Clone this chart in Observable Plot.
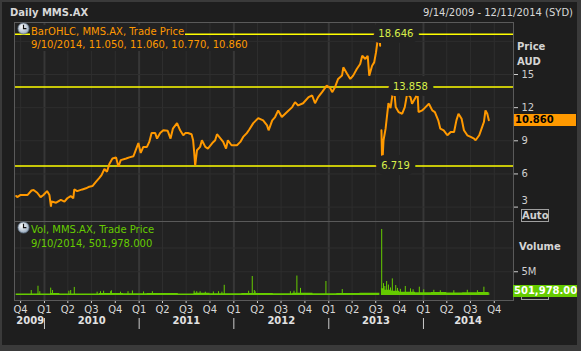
<!DOCTYPE html>
<html><head><meta charset="utf-8">
<script src="https://cdn.jsdelivr.net/npm/d3@7"></script>
<script src="https://cdn.jsdelivr.net/npm/@observablehq/plot@0.6"></script>
<style>
html,body{margin:0;padding:0;background:#3a3a3a;}
#root{position:relative;width:581px;height:351px;overflow:hidden;font-family:"DejaVu Sans",sans-serif;font-size:10px;}
#bg{position:absolute;left:2px;top:2px;width:575px;height:343px;background:#1e1e1e;}
.abs{position:absolute;white-space:nowrap;line-height:13px;}
#root svg{position:absolute;left:0;}
</style></head><body>
<div id="root"><div id="bg"></div></div>
<script>
// ---------- data ----------
const priceDates = ["2009-09-14","2009-09-18","2009-10-01","2009-10-28","2009-11-12","2009-11-20","2009-12-04","2009-12-17","2009-12-28","2010-01-11","2010-01-20","2010-01-26","2010-01-28","2010-02-15","2010-03-05","2010-03-19","2010-03-30","2010-04-12","2010-04-22","2010-04-26","2010-05-07","2010-05-27","2010-06-10","2010-06-23","2010-07-05","2010-07-19","2010-07-30","2010-08-09","2010-08-20","2010-08-30","2010-09-08","2010-09-20","2010-10-04","2010-10-13","2010-10-22","2010-11-12","2010-11-24","2010-12-10","2010-12-21","2010-12-29","2011-01-07","2011-01-17","2011-01-31","2011-02-09","2011-02-18","2011-03-04","2011-03-11","2011-03-23","2011-04-04","2011-04-21","2011-05-02","2011-05-11","2011-05-27","2011-06-08","2011-06-20","2011-06-28","2011-07-08","2011-07-22","2011-07-28","2011-08-01","2011-08-05","2011-08-12","2011-08-24","2011-08-31","2011-09-13","2011-09-23","2011-10-10","2011-10-21","2011-10-28","2011-11-11","2011-11-21","2011-12-02","2011-12-09","2011-12-23","2012-01-13","2012-01-26","2012-02-06","2012-02-20","2012-02-29","2012-03-16","2012-04-04","2012-04-23","2012-05-08","2012-05-14","2012-05-28","2012-06-08","2012-06-20","2012-07-04","2012-07-24","2012-08-13","2012-08-24","2012-09-05","2012-09-24","2012-10-15","2012-10-29","2012-11-09","2012-11-21","2012-12-06","2012-12-24","2013-01-07","2013-01-14","2013-01-25","2013-02-06","2013-02-21","2013-02-26","2013-03-12","2013-03-25","2013-04-05","2013-04-19","2013-05-02","2013-05-10","2013-05-22","2013-05-31","2013-06-06","2013-06-17","2013-06-25","2013-07-02","2013-07-09","2013-07-15","2013-07-18","2013-07-19","2013-07-23","2013-07-26","2013-07-31","2013-08-08","2013-08-19","2013-08-27","2013-09-05","2013-09-09","2013-09-16","2013-09-27","2013-10-11","2013-10-21","2013-10-30","2013-11-12","2013-11-18","2013-12-02","2013-12-09","2013-12-13","2013-12-27","2014-01-09","2014-01-22","2014-02-04","2014-02-14","2014-02-27","2014-03-07","2014-03-20","2014-04-03","2014-04-16","2014-04-29","2014-05-08","2014-05-16","2014-05-28","2014-06-06","2014-06-19","2014-07-02","2014-07-15","2014-07-21","2014-08-04","2014-08-13","2014-08-22","2014-08-28","2014-09-04","2014-09-10"];
const priceClose = [4.0,3.9,4.1,4.1,4.5,4.55,4.3,3.9,4.1,4.45,4.1,3.05,3.5,3.4,3.65,3.5,3.8,4.0,3.8,4.6,4.45,4.6,4.7,4.85,4.9,5.3,5.6,5.9,6.45,6.2,6.9,7.4,7.5,6.65,7.25,7.4,7.5,7.6,8.3,8.8,7.9,8.45,8.45,8.9,9.7,9.7,9.2,9.7,9.95,9.9,9.2,10.1,10.6,9.95,9.5,9.7,9.7,9.6,9.05,8.0,6.76,8.15,8.45,9.05,8.45,8.3,8.8,9.05,9.6,9.2,8.9,8.3,9.05,8.6,8.6,8.9,9.35,9.7,10.0,10.6,11.05,10.85,10.4,9.95,10.85,11.15,11.75,11.15,11.6,12.05,12.5,12.2,12.4,12.95,13.1,12.4,12.95,13.4,14.0,13.75,13.4,13.85,14.6,14.9,15.65,15.1,14.6,14.9,15.5,15.95,16.7,16.4,16.7,14.9,15.8,16.1,17.0,18.2,18.646,17.6,null,9.95,6.719,9.05,10.1,12.4,11.95,13.4,13.858,12.05,11.6,11.45,12.05,13.25,12.95,12.35,12.95,13.4,11.6,11.75,12.05,12.35,11.75,11.6,10.85,10.1,9.95,9.5,9.8,9.8,10.85,11.45,11.0,9.95,9.5,9.35,9.2,9.05,9.5,10.1,10.7,11.75,11.45,10.86];

const markerDates = ["2013-07-15","2013-09-09","2013-07-26"];
const markerValues = [18.646, 13.858, 6.719];

const volBaseDates = ["2009-09-14","2010-01-25","2010-03-01","2010-08-01","2010-11-01","2011-02-01","2011-06-01","2011-08-01","2011-10-01","2012-02-01","2012-06-01","2012-08-15","2012-11-01","2013-02-01","2013-05-01","2013-07-17","2013-07-23","2013-08-01","2013-09-01","2013-10-01","2013-12-01","2014-02-01","2014-04-01","2014-06-01","2014-08-01","2014-09-11"];
const volBaseValues = [0.3,0.4,0.3,0.4,0.35,0.4,0.3,0.45,0.35,0.4,0.35,0.45,0.35,0.4,0.45,0,1.4,1.1,0.9,0.7,0.6,0.65,0.55,0.6,0.65,0.5];

const volDates = ["2009-11-11","2009-12-07","2009-12-14","2010-01-25","2010-02-01","2010-04-05","2010-04-12","2010-04-26","2010-07-23","2010-08-05","2010-08-17","2010-09-13","2010-09-16","2010-10-21","2010-11-19","2010-12-06","2011-01-18","2011-02-21","2011-08-01","2011-08-11","2011-08-24","2011-09-13","2011-10-14","2011-11-03","2011-11-16","2011-11-25","2012-02-27","2012-03-12","2012-03-20","2012-03-23","2012-08-06","2012-08-20","2012-08-31","2012-09-14","2012-12-21","2013-02-22","2013-07-24","2013-07-31","2013-08-05","2013-08-12","2013-08-19","2013-08-27","2013-09-03","2013-09-16","2013-09-23","2013-10-04","2013-10-23","2013-11-12","2013-11-22","2013-12-16","2014-01-02","2014-02-10","2014-03-07","2014-04-28","2014-06-19","2014-07-28","2014-08-22","2014-09-10"];
const volValues = [1.05,1.95,0.8,1.55,1.05,0.9,1.05,1.7,0.7,0.8,0.9,0.8,1.0,0.7,0.8,0.95,0.75,0.8,0.9,0.8,0.8,0.7,0.75,0.8,0.7,2.15,0.9,4.0,1.05,0.8,0.8,0.9,4.1,1.5,2.95,1.25,13.9,2.5,1.9,2.95,2.2,1.6,3.5,2.1,1.5,1.3,1.9,1.4,1.2,1.75,1.2,1.1,1.0,1.0,1.1,1.0,1.75,0.501978];

const quarterTicks = ["2009-10-01","2010-01-01","2010-04-01","2010-07-01","2010-10-01","2011-01-01","2011-04-01","2011-07-01","2011-10-01","2012-01-01","2012-04-01","2012-07-01","2012-10-01","2013-01-01","2013-04-01","2013-07-01","2013-10-01","2014-01-01","2014-04-01","2014-07-01","2014-10-01"];
const quarterLabels = ["Q4","Q1","Q2","Q3","Q4","Q1","Q2","Q3","Q4","Q1","Q2","Q3","Q4","Q1","Q2","Q3","Q4","Q1","Q2","Q3","Q4"];
const yearStarts = ["2010-01-01","2011-01-01","2012-01-01","2013-01-01","2014-01-01"];
const yearLabels = ["2009","2010","2011","2012","2013","2014"];
const yearMids = ["2009-11-07","2010-07-02","2011-07-02","2012-07-02","2013-07-02","2014-06-22"];
const priceTicks = [6,9,12,15];
const priceTickLow = [3];
const priceGrid = [3,6,9,12,15,18];
const volTicks = [5];
const volGrid = [5,10];
const lastClose = 10.86;
const lastVolume = 0.501978;

// ---------- build ----------
const D = s => new Date(s);
const priceData = priceDates.map((d,i)=>({date:D(d), close:priceClose[i]==null?NaN:priceClose[i]}));
const markers = markerDates.map((d,i)=>({date:D(d), value:markerValues[i]}));
const volBase = volBaseDates.map((d,i)=>({date:D(d), vol:volBaseValues[i]}));
const volSpikes = volDates.map((d,i)=>({date:D(d), vol:volValues[i]}));
const qTicks = quarterTicks.map(D);
const qMap = new Map(qTicks.map((d,i)=>[+d, quarterLabels[i]]));
const yTicks = yearStarts.map(D);
const years = yearLabels.map((l,i)=>({label:l, mid:D(yearMids[i])}));

const xScale = {type:"utc", domain:[D("2009-09-14"), D("2014-12-11")], range:[15.7, 512.2]};
const baseStyle = {background:"transparent", fontFamily:"DejaVu Sans", fontSize:"10px", color:"#cfcfcf", overflow:"visible"};
const GRID = "#2e2e2e", YGRID = "#373737", ORANGE = "#ff9900", GREEN = "#66cc00";

const price = Plot.plot({
  width:581, height:222, marginLeft:14, marginRight:68, marginTop:22, marginBottom:1,
  style: baseStyle,
  x: {...xScale, axis:null},
  y: {domain:[1.697, 19.706], axis:null},
  marks: [
    Plot.frame({fill:"#222222", stroke:null}),
    Plot.gridX(qTicks, {stroke:GRID, strokeOpacity:1}),
    Plot.gridX(yTicks, {stroke:YGRID, strokeOpacity:1, strokeWidth:2}),
    Plot.gridY(priceGrid, {stroke:GRID, strokeOpacity:1}),
    Plot.ruleY(markers, {y:"value", stroke:"#ffff00", strokeWidth:1.5}),
    Plot.line(priceData, {x:"date", y:"close", stroke:ORANGE, strokeWidth:2, strokeLinejoin:"miter"}),
    Plot.text(markers, {x:"date", y:"value", text:d=>d.value.toFixed(3), textAnchor:"start", dx:-1, fill:"#d9f04a", stroke:"#222222", strokeWidth:12, fontSize:10}),
    Plot.axisY(priceTicks, {anchor:"right", tickSize:4, tickPadding:4, label:null, fontSize:10}),
    Plot.axisY(priceTickLow, {anchor:"right", tickSize:4, tickPadding:4, label:null, tickFormat:()=>""}),
    Plot.axisY(priceTickLow, {anchor:"right", tickSize:0, tickPadding:8, label:null, dy:-6, fontSize:10}),
    Plot.frame({stroke:"#5a5a5a"})
  ]
});
price.style.top = "0px";

const vol = Plot.plot({
  width:581, height:130, marginLeft:14, marginRight:68, marginTop:0, marginBottom:51,
  style: baseStyle,
  x: {...xScale, axis:null},
  y: {domain:[-1.05, 15.58], axis:null},
  marks: [
    Plot.frame({fill:"#222222", stroke:null}),
    Plot.gridX(qTicks, {stroke:GRID, strokeOpacity:1}),
    Plot.gridX(yTicks, {stroke:YGRID, strokeOpacity:1, strokeWidth:2}),
    Plot.gridY(volGrid, {stroke:GRID, strokeOpacity:1}),
    Plot.areaY(volBase, {x:"date", y:"vol", curve:"step-after", fill:GREEN}),
    Plot.ruleX(volSpikes, {x:"date", y1:0, y2:"vol", stroke:GREEN, strokeWidth:1}),
    Plot.axisY(volTicks, {anchor:"right", tickSize:4, tickPadding:4, label:null, tickFormat:d=>d+"M", fontSize:10}),
    Plot.axisX(qTicks, {anchor:"bottom", tickSize:3, tickPadding:2, label:null, tickFormat:d=>qMap.get(+d), fontSize:10, fill:"#d8d8d8"}),
    Plot.axisX(yTicks, {anchor:"bottom", tickSize:11, dy:18, label:null, tickFormat:()=>"", stroke:"#cccccc"}),
    Plot.text(years, {x:"mid", text:"label", frameAnchor:"bottom", dy:23, fontWeight:"bold", fill:"#e2e2e2", fontSize:10}),
    Plot.frame({stroke:"#5a5a5a"})
  ]
});
vol.style.top = "221px";

const root = document.getElementById("root");
root.appendChild(price);
root.appendChild(vol);

function add(html, css){
  const d = document.createElement("div");
  d.className = "abs";
  d.innerHTML = html;
  Object.assign(d.style, css);
  root.appendChild(d);
  return d;
}
const clock = `<svg width="13" height="13" viewBox="0 0 13 13" style="position:static"><defs><radialGradient id="cg" cx="0.4" cy="0.35" r="0.7"><stop offset="0" stop-color="#ffffff"/><stop offset="1" stop-color="#8fa3b8"/></radialGradient></defs><circle cx="6.5" cy="6.5" r="5.6" fill="url(#cg)" stroke="#5d6f82" stroke-width="0.8"/><path d="M6.5 2.8V6.7H9.4" stroke="#111" stroke-width="1.2" fill="none"/></svg>`;

// titles
add("Daily MMS.AX", {left:"10px", top:"6px", fontWeight:"bold", color:"#d8d8d8"});
add("9/14/2009 - 12/11/2014 (SYD)", {right:"8px", top:"6px", color:"#d8d8d8"});

// price legend
add(clock, {left:"17px", top:"22px", lineHeight:"0"});
add("BarOHLC, MMS.AX, Trade Price", {left:"30px", top:"24.5px", color:ORANGE, background:"#222", paddingLeft:"1px", paddingRight:"1px"});
add("9/10/2014, 11.050, 11.060, 10.770, 10.860", {left:"30px", top:"37.5px", color:ORANGE, background:"#222", paddingLeft:"1px"});

// volume legend
add(clock, {left:"17px", top:"221px", lineHeight:"0"});
add("Vol, MMS.AX, Trade Price", {left:"31px", top:"223px", color:GREEN});
add("9/10/2014, 501,978.000", {left:"31px", top:"236.5px", color:GREEN});

// right axis labels
add("Price", {left:"517px", top:"40px", fontWeight:"bold", color:"#d4d4d4"});
add("AUD", {left:"517px", top:"55px", fontWeight:"bold", color:"#d4d4d4"});
add("Volume", {left:"519px", top:"240px", fontWeight:"bold", color:"#d4d4d4"});
add("Auto", {left:"521px", top:"209px", width:"26px", height:"11px", lineHeight:"11px", border:"1px solid #a0a0a0", textAlign:"center", fontWeight:"bold", color:"#d0d0d0"});
add("", {left:"521px", top:"288px", width:"26px", height:"10px", border:"1px solid #a0a0a0"});

// last value boxes (positioned by the plots' scales)
const py = price.scale("y").apply(lastClose);
add(lastClose.toFixed(3), {left:"514px", top:(py-6)+"px", width:"61px", height:"12px", lineHeight:"12px", background:ORANGE, color:"#000", fontWeight:"bold", paddingLeft:"1px"});
const vy = 221 + vol.scale("y").apply(lastVolume);
add("501,978.00", {left:"513px", top:(vy-8)+"px", width:"63px", height:"12px", lineHeight:"12px", background:GREEN, color:"#fff", fontWeight:"bold", paddingLeft:"1px"});
</script></body></html>
